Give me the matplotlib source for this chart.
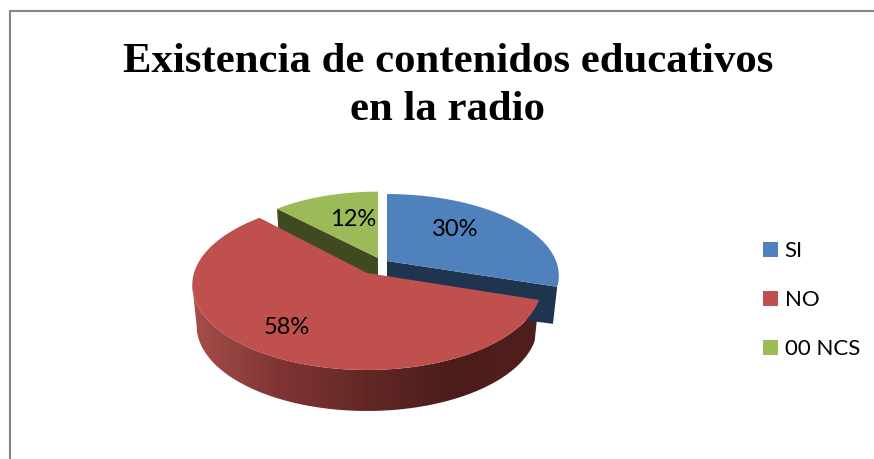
import numpy as np
import matplotlib
matplotlib.use('Agg')
import matplotlib.pyplot as plt
from matplotlib.colors import LinearSegmentedColormap
from matplotlib.patches import Patch, Polygon

title = 'Existencia de contenidos educativos\nen la radio'
categories = ['SI', 'NO', '00 NCS']
values = [30, 58, 12]
value_labels = ['30%', '58%', '12%']

colors = ['#4f81bd', '#c0504d', '#9bbb59']
side_colors = ['#1f344f', '#501e1d', '#404a20']

# apex of every slice in pixels + how the disc is squashed (a, b, k)
apex = [(387, 261), (367, 273), (378, 258)]
shape = [(169, 79, 0.18), (173, 83.4, 0.14), (155, 71, 0.07)]
depth = 41
label_pos = [(455, 229), (287, 327), (353, 219)]

W, H = 874, 459
fig = plt.figure(figsize=(W / 100, H / 100), dpi=100)
ax = fig.add_axes([0, 0, 1, 1])
ax.axis('off')


def project(i, deg):
    # angle clockwise from north -> pixel on the tilted disc
    a, b, k = shape[i]
    t = np.radians(deg)
    u, v = np.sin(t), -np.cos(t)
    w = 1 - k * v
    return apex[i][0] + a * u / w, apex[i][1] + b * v / w


def extrude(i, x, y):
    return apex[i][0] + (x - apex[i][0]) * 0.975, y + depth


# slice limits from the values
edges = np.cumsum([0] + values) / sum(values) * 360

# gray frame, open at right and bottom
ax.plot([10, 10, W], [H, 11, 11], color='#868686', lw=1.5, solid_joinstyle='miter')

# sides of the exploded slices first
x0, y0 = project(2, edges[2])
x1, y1 = extrude(2, x0, y0)
ax.fill([apex[2][0], x0, x1, extrude(2, apex[2][0], apex[2][1])[0]],
        [apex[2][1], y0, y1, apex[2][1] + depth], color=side_colors[2], lw=0)

x0, y0 = project(0, edges[1])
x1, y1 = extrude(0, x0, y0)
ax.fill([apex[0][0], x0, x1, apex[0][0]],
        [apex[0][1], y0, y1 - 4, apex[0][1] + depth], color=side_colors[0], lw=0)

# top faces of blue and green
for i in [0, 2]:
    th = np.linspace(edges[i], edges[i + 1], 80)
    xs, ys = project(i, th)
    ax.fill(np.r_[apex[i][0], xs], np.r_[apex[i][1], ys], color=colors[i], lw=0)

# red rim with the gradient
th = np.linspace(edges[1], 262, 120)
xs, ys = project(1, th)
xb, yb = extrude(1, xs, ys)
rim = Polygon(np.c_[np.r_[xs, xb[::-1]], np.r_[ys, yb[::-1]]], closed=True, fc='none', ec='none')
ax.add_patch(rim)
rim_cmap = LinearSegmentedColormap.from_list(
    'rim', ['#a84f4c', '#7f3534', '#632826', '#4c1c1b', '#501e1d'])
im = ax.imshow(np.linspace(0, 1, 256)[None, :], cmap=rim_cmap, aspect='auto',
               extent=(190, 540, 420, 280))
im.set_clip_path(rim)

# red top
th = np.linspace(edges[1], edges[2], 200)
xs, ys = project(1, th)
ax.fill(np.r_[apex[1][0], xs], np.r_[apex[1][1], ys], color=colors[1], lw=0)

ax.set_xlim(0, W)
ax.set_ylim(H, 0)

for lab, (lx, ly) in zip(value_labels, label_pos):
    ax.text(lx, ly, lab, ha='center', va='center', family='Lato', fontsize=17, color='black')

ax.text(448, 86, title, ha='center', va='center', family='Liberation Serif',
        fontweight='bold', fontsize=30.8, color='black', linespacing=1.36)

handles = [Patch(color=c, lw=0) for c in colors]
ax.legend(handles, categories, loc='center left', bbox_to_anchor=(763 / W, 1 - 300 / H),
          frameon=False, prop={'family': 'Lato', 'size': 16}, handlelength=0.675,
          handleheight=0.675, handletextpad=0.3, labelspacing=1.31, borderpad=0, borderaxespad=0)

plt.savefig('out.png', dpi=100, facecolor='white')
